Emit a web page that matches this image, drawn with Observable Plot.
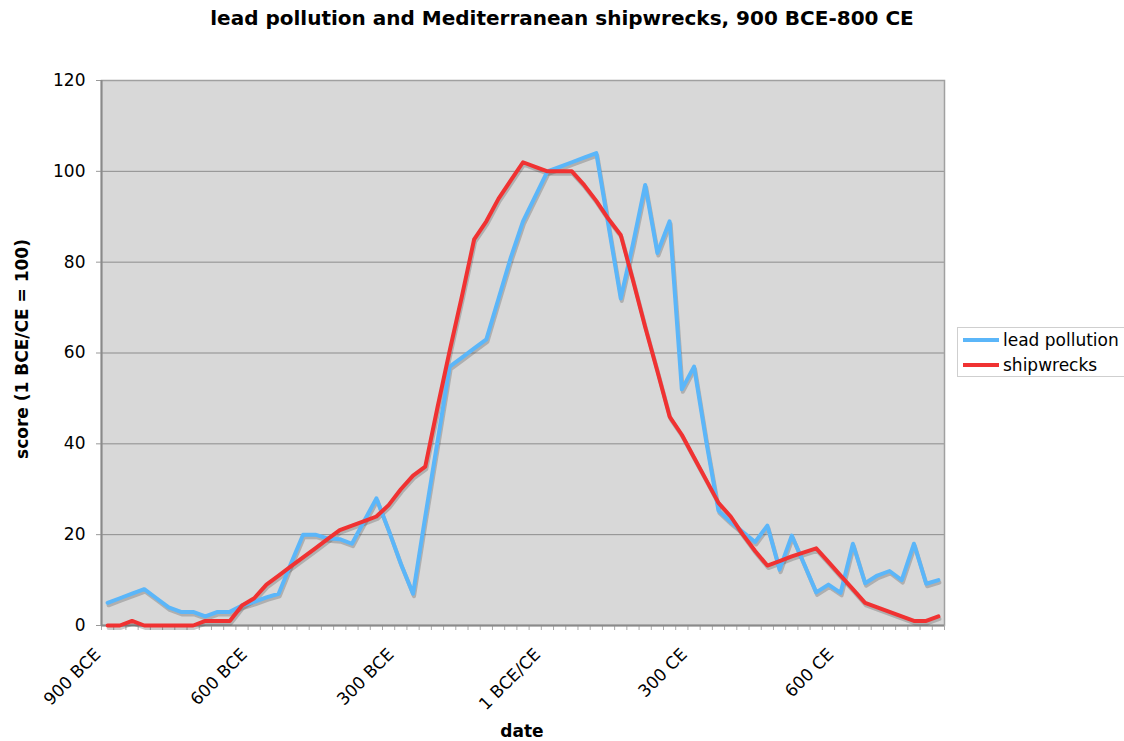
<!DOCTYPE html>
<html>
<head>
<meta charset="utf-8">
<script src="https://cdn.jsdelivr.net/npm/d3@7"></script>
<script src="https://cdn.jsdelivr.net/npm/@observablehq/plot@0.6"></script>
<style>
  html, body { margin: 0; padding: 0; background: #fff; overflow: hidden; }
  #wrap { position: relative; width: 1124px; height: 741px; overflow: hidden; font-family: "DejaVu Sans", Verdana, sans-serif; color: #000; }
  #wrap svg { position: absolute; left: 0; top: 0; }
  .abs { position: absolute; white-space: nowrap; }
  #title { left: 0; width: 1124px; top: 8px; text-align: center; font-weight: bold; font-size: 20px; line-height: 20px; }
  #ylab { left: 22px; top: 349px; transform: translate(-50%, -50%) rotate(-90deg); font-weight: bold; font-size: 17px; line-height: 18px; }
  #xlab { left: 522px; top: 731px; transform: translate(-50%, -50%); font-weight: bold; font-size: 17px; line-height: 18px; }
  #legend { left: 957px; top: 327px; width: 180px; height: 50px; background: #fff; border: 1px solid #cfcfcf; box-sizing: border-box; }
  .item { position: absolute; left: 5px; height: 20px; font-size: 17px; line-height: 20px; }
  .sw { position: absolute; left: 0; top: 8px; width: 36px; height: 4px; }
  .lt { position: absolute; left: 40px; top: 0; }
</style>
</head>
<body>
<div id="wrap">
  <div id="chart"></div>
  <div id="title" class="abs">lead pollution and Mediterranean shipwrecks, 900 BCE-800 CE</div>
  <div id="ylab" class="abs">score (1 BCE/CE = 100)</div>
  <div id="xlab" class="abs">date</div>
  <div id="legend" class="abs"></div>
</div>
<script>
// Categories: 25-year steps from 900 BCE to 800 CE (negative = BCE)
const years = [-900,-875,-850,-825,-800,-775,-750,-725,-700,-675,-650,-625,-600,-575,-550,-525,-500,-475,-450,-425,-400,-375,-350,-325,-300,-275,-250,-225,-200,-175,-150,-125,-100,-75,-50,-25,0,25,50,75,100,125,150,175,200,225,250,275,300,325,350,375,400,425,450,475,500,525,550,575,600,625,650,675,700,725,750,775,800];

const leadPollution = [5,6,7,8,6,4,3,3,2,3,3,4.4,5.2,6.2,7,13.6,20,20,19.2,19,18,23,28,21,13.6,7,24,40.5,57,59,61,63,72,81,89,94.5,100,101,102,103,104,88,72,84,97,82,89,52,57,40.5,25.3,22.8,20.6,18.4,22,12.3,19.8,13.6,7.3,9,7.2,18,9.3,11,12,10,18,9.2,10];

const shipwrecks = [0,0,1,0,0,0,0,0,1,1,1,4.4,6,9,11,13,15,17,19,21,22,23,24,26.5,30,33,35,48,60.5,72.5,85,89,94,98,102,101,100,100,100,97,93.5,89.5,86,76,65.7,56,46,42,37,32,27,24,20,16.4,13.2,14.2,15.2,16.1,17,14,11,8,5,4,3,2,1,1,2];

const seriesNames = ["lead pollution", "shipwrecks"];
const seriesColors = ["#5bb6f9", "#f03232"];

const tickYears = [-900, -600, -300, 0, 300, 600];
const tickLabels = ["900 BCE", "600 BCE", "300 BCE", "1 BCE/CE", "300 CE", "600 CE"];
const yTicks = [0, 20, 40, 60, 80, 100, 120];

const rows = years.map((y, i) => ({year: y, lead: leadPollution[i], ship: shipwrecks[i]}));
const step = 25;
const boundaries = years.map(y => y - step / 2).concat([years[years.length - 1] + step / 2]);

const chart = Plot.plot({
  width: 1124,
  height: 741,
  marginLeft: 101,
  marginRight: 180,
  marginTop: 80,
  marginBottom: 116,
  x: {domain: [years[0] - step / 2, years[years.length - 1] + step / 2], axis: null},
  y: {domain: [0, 120], axis: null},
  style: {fontFamily: "DejaVu Sans, Verdana, sans-serif", fontSize: "17px", background: "transparent", overflow: "visible"},
  marks: [
    Plot.frame({fill: "#d8d8d8"}),
    Plot.gridY(yTicks.slice(1), {stroke: "#8c8c8c", strokeOpacity: 1, strokeWidth: 1}),
    Plot.frame({stroke: "#a0a0a0", strokeWidth: 1.5}),
    Plot.axisY({ticks: yTicks, tickSize: 5, tickPadding: 11, label: null, stroke: "#999", fill: "#000", fontSize: 17, tickFormat: d => String(d)}),
    Plot.axisX({ticks: boundaries, tickSize: 5, tickPadding: 0, label: null, stroke: "#aaa", tickFormat: () => ""}),
    Plot.ruleX([boundaries[0]], {stroke: "#8a8a8a", strokeWidth: 2}),
    Plot.ruleY([0], {stroke: "#8a8a8a", strokeWidth: 2}),
    // drop shadows
    Plot.lineY(rows, {x: "year", y: "lead", stroke: "#444", strokeOpacity: 0.28, strokeWidth: 4, dx: 1, dy: 2.5}),
    Plot.lineY(rows, {x: "year", y: "ship", stroke: "#444", strokeOpacity: 0.28, strokeWidth: 4, dx: 1, dy: 2.5}),
    Plot.lineY(rows, {x: "year", y: "lead", stroke: seriesColors[0], strokeWidth: 4}),
    Plot.lineY(rows, {x: "year", y: "ship", stroke: seriesColors[1], strokeWidth: 4}),
    Plot.text(tickYears, {
      x: d => d,
      frameAnchor: "bottom",
      text: (d, i) => tickLabels[i],
      rotate: -45,
      textAnchor: "end",
      lineAnchor: "bottom",
      dx: -6,
      dy: 30,
      fontSize: 17,
      fill: "#000"
    })
  ]
});
document.getElementById("chart").appendChild(chart);

// legend
const legend = document.getElementById("legend");
seriesNames.forEach((name, i) => {
  const item = document.createElement("div");
  item.className = "item";
  item.style.top = (i === 0 ? 2 : 27) + "px";
  const sw = document.createElement("div");
  sw.className = "sw";
  sw.style.background = seriesColors[i];
  const t = document.createElement("div");
  t.className = "lt";
  t.textContent = name;
  item.appendChild(sw);
  item.appendChild(t);
  legend.appendChild(item);
});
</script>
</body>
</html>
